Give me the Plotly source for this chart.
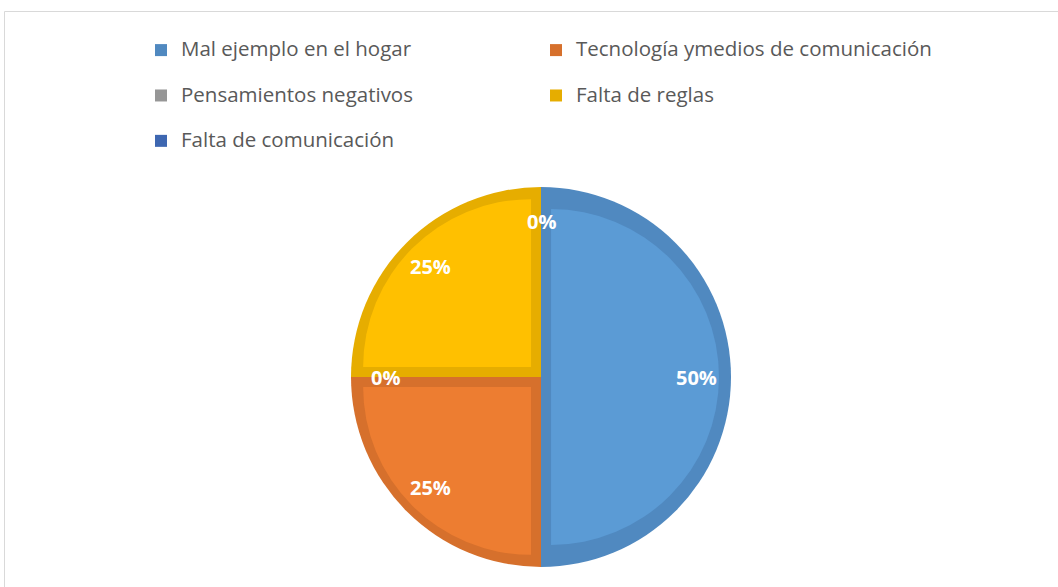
import math
import plotly.graph_objects as go

labels = ["Mal ejemplo en el hogar", "Tecnología ymedios de comunicación",
          "Pensamientos negativos", "Falta de reglas", "Falta de comunicación"]
values = [50, 25, 0, 25, 0]
fill_colors = ["#5B9BD5", "#ED7D31", "#A5A5A5", "#FFC000", "#4472C4"]
edge_colors = ["#5089C0", "#D6702C", "#969696", "#E6AD00", "#3E67B1"]
inner_pull = [0.06, 0.084, 0.0, 0.084, 0.0]

W, H = 1058, 587
cx, cy, R, Rb = 541, 377, 190, 182
label_r = 0.82

def dom(r):
    return dict(x=[(cx - r) / W, (cx + r) / W],
                y=[1 - (cy + r) / H, 1 - (cy - r) / H])

legend_labels = ["<span style='font-size:20.5px'>%s</span><br> " % l for l in labels]

fig = go.Figure()
# dark border layer (full pie) – also provides the legend
fig.add_trace(go.Pie(
    labels=legend_labels, values=values, sort=False, direction="clockwise", rotation=0,
    marker=dict(colors=edge_colors, line=dict(width=0)),
    textinfo="none", domain=dom(R), showlegend=True, hoverinfo="percent",
))
# lighter inner fill layer
fig.add_trace(go.Pie(
    labels=legend_labels, values=values, sort=False, direction="clockwise", rotation=0,
    marker=dict(colors=fill_colors, line=dict(width=0)),
    pull=inner_pull, domain=dom(Rb), showlegend=False,
    textinfo="none", hoverinfo="percent",
))

# percentage labels placed from the cumulative values
total = sum(values)
annotations = []
cum = 0
for v in values:
    mid = (cum + v / 2) / total * 2 * math.pi
    cum += v
    x = cx + label_r * R * math.sin(mid)
    y = cy - label_r * R * math.cos(mid)
    annotations.append(dict(
        x=x / W, y=1 - y / H, xref="paper", yref="paper", showarrow=False,
        text="<b>%d%%</b>" % round(v / total * 100), xanchor="center", yanchor="middle",
        font=dict(family="Open Sans", size=20, color="white"),
    ))

fig.update_layout(
    width=W, height=H, margin=dict(l=0, r=0, t=0, b=0),
    paper_bgcolor="white", plot_bgcolor="white",
    legend=dict(orientation="h", x=141 / W, xanchor="left", y=1 - 33 / H, yanchor="top",
                entrywidth=350, entrywidthmode="pixels", valign="top",
                font=dict(family="Open Sans", size=16.3, color="#595959"),
                traceorder="normal"),
    annotations=annotations,
    shapes=[dict(type="rect", xref="paper", yref="paper",
                 x0=4.5 / W, x1=1.05, y0=-0.05, y1=1 - 11.5 / H,
                 line=dict(color="#D9D9D9", width=1), fillcolor="rgba(0,0,0,0)", layer="below")],
)

fig.write_html("out.html", config={"displayModeBar": False},
               post_script="document.body.style.margin='0px';")
